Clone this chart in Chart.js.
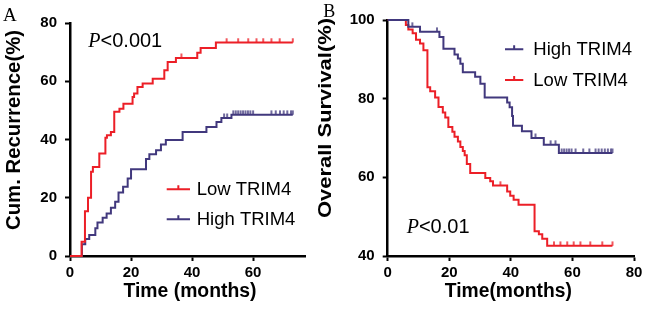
<!DOCTYPE html>
<html>
<head>
<meta charset="utf-8">
<script src="https://cdn.jsdelivr.net/npm/chart.js@4.4.0/dist/chart.umd.min.js"></script>
<style>
  html, body { margin: 0; padding: 0; background: #fff; }
  #wrap { position: relative; width: 646px; height: 309px; overflow: hidden; }
  #chartA { position: absolute; left: 0; top: 0; }
  #chartB { position: absolute; left: 318px; top: 0; }
</style>
</head>
<body>
<div id="wrap">
  <canvas id="chartA" width="318" height="309"></canvas>
  <canvas id="chartB" width="328" height="309"></canvas>
</div>
<script>
// Panel A - cumulative recurrence (%), step changes at these months
const aLowT  = [0, 3.8, 4.9, 5.9, 6.9, 7.5, 9.6, 11.6, 12.1, 13.4, 14.5, 16.2, 17.5, 20.5, 21, 22.1, 23.8, 27.1, 30.9, 32, 34.7, 41.7, 42.8, 47.8, 73];
const aLowV  = [0, 4.9, 15.4, 20, 28.9, 30.6, 35.2, 40.6, 41.5, 42.6, 49.5, 50.6, 52.3, 54.6, 55.8, 58, 59.2, 60.9, 63.8, 66.6, 68, 69.8, 71.4, 73.3, 73.3];
const aLowCensor = [36.5, 51.3, 55.1, 58.4, 61.1, 63.3, 66, 68.7, 73];

const aHighT = [0, 3.9, 5, 6.3, 8.3, 9, 10.7, 12, 13.4, 14.8, 15.9, 17.4, 18.9, 20, 24.9, 26, 28.2, 29.8, 31.4, 36.9, 44.7, 48, 49.6, 52.9, 73];
const aHighV = [0, 4, 5.8, 7.2, 9.5, 11.5, 13.1, 14.6, 16.6, 18.6, 21.8, 23.8, 26.6, 29.8, 33.3, 34.9, 36.3, 38.3, 39.8, 42.6, 44.3, 46, 47.4, 48.5, 48.5];
const aHighCensor = [50.5, 51.5, 53.5, 54.3, 55.1, 55.9, 56.7, 57.5, 58.3, 59.1, 60, 66, 67.4, 68.8, 70, 71.2, 72.4, 73];

// Panel B - overall survival (%)
const bHighT = [0, 6.7, 10.5, 16.8, 18.1, 21.7, 22.8, 23.6, 24.4, 28.4, 30.1, 31.5, 38.8, 39.6, 40.4, 40.7, 43.6, 46.7, 50.7, 55.6, 73];
const bHighV = [100, 98.3, 97, 95.7, 92.7, 91.2, 90.2, 88.9, 86.7, 85.6, 83.8, 80.3, 79, 77.8, 75.6, 73.1, 71.7, 70, 68.3, 66.2, 66.2];
const bHighCensor = [8, 16, 48, 52.9, 54.5, 56.5, 57.3, 58.1, 58.9, 59.7, 61, 63.5, 65.5, 67.5, 68.5, 69.5, 70.5, 71.5, 72.5, 73];

const bLowT  = [0, 5.9, 6.7, 8.1, 9.2, 10.5, 11.6, 12.9, 13.8, 15.4, 16.5, 17.9, 18.7, 19.7, 21, 21.7, 22.8, 23.6, 24.4, 25, 25.7, 26.8, 31.7, 33.3, 34.2, 38.8, 39.8, 40.9, 42.5, 47.7, 49.1, 50.2, 51.8, 73];
const bLowV  = [100, 98.7, 97.6, 96.6, 95, 94, 92.3, 82.9, 81.9, 80.3, 77.9, 76.5, 75.2, 72.8, 71.6, 70.3, 69.1, 67.7, 66.7, 65.6, 63.4, 61.1, 59.8, 59, 57.9, 56.4, 55.3, 54.3, 53, 46.3, 45.5, 44.4, 42.6, 42.6];
const bLowCensor = [36.6, 54, 56.1, 58.3, 60.4, 62.6, 65.8, 69.7, 73];

const RED = "#ec1f27";
const PURPLE = "#41387d";

Chart.defaults.font.family = '"Liberation Sans", Arial, sans-serif';
Chart.defaults.color = "#000";

function toPoints(ts, vs) {
  return ts.map((t, i) => ({ x: t, y: vs[i] }));
}

// value of the step curve at time t (for placing censor marks on the line)
function stepAt(ts, vs, t) {
  let v = vs[0];
  for (let i = 0; i < ts.length; i++) if (ts[i] <= t) v = vs[i];
  return v;
}

// small upward tick used as the censor marker (image is centred on the point)
function tickMark(color) {
  const c = document.createElement("canvas");
  c.width = 4;
  c.height = 10;
  const g = c.getContext("2d");
  g.strokeStyle = color;
  g.lineWidth = 1.5;
  g.beginPath();
  g.moveTo(2, 0.5);
  g.lineTo(2, 5);
  g.stroke();
  return c;
}

function curve(label, color, ts, vs) {
  return {
    label,
    data: toPoints(ts, vs),
    borderColor: color,
    borderWidth: 2,
    stepped: "before",
    pointRadius: 0,
    fill: false,
    clip: false
  };
}

function censor(color, ts, vs, cs) {
  return {
    data: cs.map(t => ({ x: t, y: stepAt(ts, vs, t) })),
    showLine: false,
    pointStyle: tickMark(color),
    pointRadius: 4,
    clip: false
  };
}

function axes(xMax, yMin, yMax, leftW) {
  const grid = { drawOnChartArea: false, drawTicks: true, tickLength: 5, tickWidth: 2, color: "#000" };
  const border = { color: "#000", width: 2.5 };
  const tickFont = { size: 15, weight: "bold" };
  return {
    x: {
      type: "linear", min: 0, max: xMax,
      ticks: { stepSize: 20, includeBounds: false, font: tickFont, padding: 3, maxRotation: 0 },
      grid, border,
      afterFit: s => { s.height = 53; }
    },
    y: {
      min: yMin, max: yMax,
      ticks: { stepSize: 20, font: tickFont, padding: 8 },
      grid, border,
      afterFit: s => { s.width = leftW; }
    }
  };
}

const annotPlugin = {
  id: "annot",
  afterDraw(chart, args, opts) {
    const ctx = chart.ctx;
    ctx.save();
    ctx.fillStyle = "#000";
    (opts.texts || []).forEach(t => {
      ctx.save();
      ctx.font = t.font;
      ctx.textAlign = t.align || "left";
      ctx.textBaseline = t.baseline || "alphabetic";
      ctx.translate(t.x, t.y);
      if (t.rotate) ctx.rotate(t.rotate * Math.PI / 180);
      if (t.width) ctx.scale(t.width / ctx.measureText(t.text).width, 1);
      ctx.fillText(t.text, 0, 0);
      ctx.restore();
    });
    const p = opts.pValue;
    if (p) {
      ctx.textAlign = "left";
      ctx.textBaseline = "alphabetic";
      ctx.font = 'italic 20px "Liberation Serif"';
      ctx.fillText("P", p.x, p.y);
      const w = ctx.measureText("P").width;
      ctx.font = '20px "Liberation Sans"';
      ctx.fillText(p.text, p.x + w, p.y);
    }
    (opts.legend || []).forEach(item => {
      const ds = chart.data.datasets[item.index];
      ctx.strokeStyle = ds.borderColor;
      ctx.lineWidth = 2;
      ctx.beginPath();
      ctx.moveTo(item.x, item.y);
      ctx.lineTo(item.x + item.len, item.y);
      ctx.moveTo(item.x + item.len / 2, item.y);
      ctx.lineTo(item.x + item.len / 2, item.y - 4);
      ctx.stroke();
      ctx.fillStyle = "#000";
      ctx.font = '18.5px "Liberation Sans"';
      ctx.textBaseline = "middle";
      ctx.textAlign = "left";
      ctx.fillText(ds.label, item.x + item.gap, item.y + 1);
    });
    ctx.restore();
  }
};

new Chart(document.getElementById("chartA").getContext("2d"), {
  type: "line",
  data: {
    datasets: [
      curve("Low TRIM4", RED, aLowT, aLowV),
      curve("High TRIM4", PURPLE, aHighT, aHighV),
      censor(RED, aLowT, aLowV, aLowCensor),
      censor(PURPLE, aHighT, aHighV, aHighCensor)
    ]
  },
  options: {
    responsive: false,
    animation: false,
    layout: { padding: { left: 0, right: 13, top: 23, bottom: 0 } },
    scales: axes(77, 0, 80, 70),
    plugins: {
      legend: { display: false },
      tooltip: { enabled: false },
      annot: {
        texts: [
          { text: "A", x: 3, y: 20.7, font: '19px "Liberation Serif"' },
          { text: "Time (months)", x: 190, y: 296.7, align: "center", font: 'bold 20px "Liberation Sans"', width: 133 },
          { text: "Cum. Recurrence(%)", x: 14, y: 130, align: "center", baseline: "middle", rotate: -90, font: 'bold 20px "Liberation Sans"', width: 200 }
        ],
        pValue: { x: 88.3, y: 46.7, text: "<0.001" },
        legend: [
          { index: 0, x: 166.7, y: 189.3, len: 23.3, gap: 30 },
          { index: 1, x: 166.7, y: 219.3, len: 23.3, gap: 30 }
        ]
      }
    }
  },
  plugins: [annotPlugin]
});

new Chart(document.getElementById("chartB").getContext("2d"), {
  type: "line",
  data: {
    datasets: [
      curve("High TRIM4", PURPLE, bHighT, bHighV),
      curve("Low TRIM4", RED, bLowT, bLowV),
      censor(PURPLE, bHighT, bHighV, bHighCensor),
      censor(RED, bLowT, bLowV, bLowCensor)
    ]
  },
  options: {
    responsive: false,
    animation: false,
    layout: { padding: { left: 0, right: 12, top: 20, bottom: 0 } },
    scales: axes(80, 40, 100, 69.7),
    plugins: {
      legend: { display: false },
      tooltip: { enabled: false },
      annot: {
        texts: [
          { text: "B", x: 5.3, y: 16.7, font: '18px "Liberation Serif"' },
          { text: "Time(months)", x: 190.3, y: 296.7, align: "center", font: 'bold 20px "Liberation Sans"', width: 127 },
          { text: "Overall Survival(%)", x: 8.5, y: 118, align: "center", baseline: "middle", rotate: -90, font: 'bold 18px "Liberation Sans"', width: 200 }
        ],
        pValue: { x: 88.7, y: 233.3, text: "<0.01" },
        legend: [
          { index: 0, x: 187, y: 49.3, len: 18.3, gap: 28.3 },
          { index: 1, x: 187, y: 80, len: 18.3, gap: 28.3 }
        ]
      }
    }
  },
  plugins: [annotPlugin]
});
</script>
</body>
</html>
